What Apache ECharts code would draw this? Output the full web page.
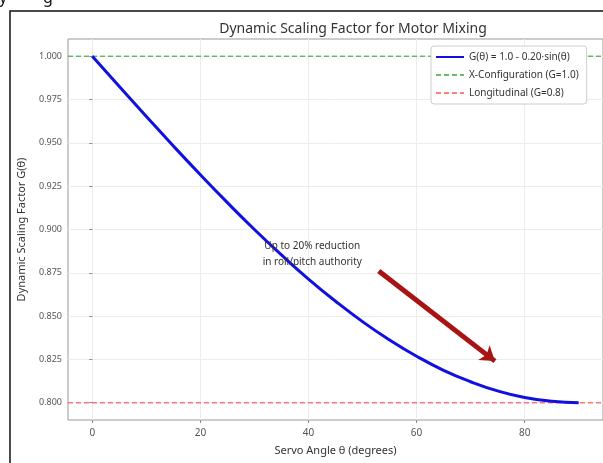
<!DOCTYPE html>
<html>
<head>
<meta charset="utf-8">
<script src="https://cdn.jsdelivr.net/npm/echarts@6/dist/echarts.min.js"></script>
<style>
html, body { margin: 0; padding: 0; background: #fff; }
#main { width: 603px; height: 463px; }
</style>
</head>
<body>
<div id="main"></div>
<script>
// servo angle (deg) and scaling factor
var angles = [0, 5, 10, 15, 20, 25, 30, 35, 40, 45, 50, 55, 60, 65, 70, 75, 80, 85, 90];
var gValues = [1.0000, 0.9826, 0.9653, 0.9482, 0.9316, 0.9155, 0.9000, 0.8853, 0.8714, 0.8586,
	0.8468, 0.8362, 0.8268, 0.8187, 0.8121, 0.8068, 0.8030, 0.8008, 0.8000];
var xConfigLevel = 1.0;
var longitudinalLevel = 0.8;
var xTicks = [0, 20, 40, 60, 80];
var yTicks = [0.800, 0.825, 0.850, 0.875, 0.900, 0.925, 0.950, 0.975, 1.000];
var xMin = -4.5, xMax = 94.5;
var yMin = 0.79, yMax = 1.01;
var noteText = "Up to 20% reduction\nin roll/pitch authority";
var notePos = [40.7, 0.886];
var arrowFrom = [53, 0.876];
var arrowTo = [74.5, 0.824];

var fontName = "Noto Sans";

function pairs(xs, ys) {
	var out = [];
	for (var i = 0; i < xs.length; i++) {
		out.push([xs[i], ys[i]]);
	}
	return out;
}

var myChart = echarts.init(document.getElementById("main"));
myChart.setOption({
	backgroundColor: "#fff",
	animation: false,
	textStyle: { fontFamily: fontName },
	title: {
		text: "Dynamic Scaling Factor for Motor Mixing",
		left: 348,
		top: 17,
		textAlign: "center",
		textStyle: { fontFamily: fontName, fontSize: 14, fontWeight: "normal", color: "#333" }
	},
	graphic: [
		{ type: "rect", shape: { x: 10, y: 11, width: 700, height: 600 },
			style: { fill: "none", stroke: "#111", lineWidth: 1.5 }, silent: true },
		{ type: "text", left: -1, top: -10, style: { text: "y", font: "16px Noto Sans", fill: "#111" } },
		{ type: "text", left: 43, top: -10, style: { text: "g", font: "16px Noto Sans", fill: "#111" } }
	],
	legend: {
		orient: "vertical",
		left: 431,
		top: 46,
		padding: [6, 8, 6, 4],
		itemGap: 8,
		itemWidth: 28,
		itemHeight: 12,
		itemStyle: { opacity: 0 },
		backgroundColor: "#fff",
		borderColor: "#ccc",
		borderWidth: 1,
		borderRadius: 3,
		textStyle: { fontFamily: fontName, fontSize: 10, color: "#333" },
		data: ["G(θ) = 1.0 - 0.20·sin(θ)", "X-Configuration (G=1.0)", "Longitudinal (G=0.8)"]
	},
	grid: {
		left: 68, right: 0, top: 39, bottom: 43,
		show: true, borderColor: "#999", borderWidth: 1, backgroundColor: "#fff"
	},
	xAxis: {
		type: "value",
		min: xMin, max: xMax,
		name: "Servo Angle θ (degrees)",
		nameLocation: "middle",
		nameGap: 25,
		nameTextStyle: { fontFamily: fontName, fontSize: 11, color: "#333" },
		axisLine: { show: false },
		axisTick: { show: true, length: 3, customValues: xTicks, lineStyle: { color: "#888" } },
		axisLabel: { customValues: xTicks, margin: 8, fontSize: 10, color: "#555", fontFamily: fontName },
		splitLine: { show: true, lineStyle: { color: "#ececec", width: 1 } }
	},
	yAxis: {
		type: "value",
		min: yMin, max: yMax,
		name: "Dynamic Scaling Factor G(θ)",
		nameLocation: "middle",
		nameGap: 41,
		nameTextStyle: { fontFamily: fontName, fontSize: 11, color: "#333" },
		axisLine: { show: false },
		axisTick: { show: true, length: 3, customValues: yTicks, lineStyle: { color: "#888" } },
		axisLabel: {
			customValues: yTicks, margin: 6, fontSize: 9, color: "#555", fontFamily: fontName,
			formatter: function (v) { return v.toFixed(3); }
		},
		splitLine: { show: true, lineStyle: { color: "#ececec", width: 1 } }
	},
	series: [
		{
			name: "X-Configuration (G=1.0)",
			type: "line",
			symbol: "none",
			data: [[xMin, xConfigLevel], [xMax, xConfigLevel]],
			lineStyle: { color: "#2ca02c", width: 1.5, type: [5, 3], opacity: 0.7 },
			itemStyle: { color: "#2ca02c" },
			z: 2
		},
		{
			name: "Longitudinal (G=0.8)",
			type: "line",
			symbol: "none",
			data: [[xMin, longitudinalLevel], [xMax, longitudinalLevel]],
			lineStyle: { color: "#ff0000", width: 1.5, type: [5, 3], opacity: 0.5 },
			itemStyle: { color: "#ff0000" },
			z: 2
		},
		{
			name: "G(θ) = 1.0 - 0.20·sin(θ)",
			type: "line",
			symbol: "none",
			smooth: 0.5,
			data: pairs(angles, gValues),
			lineStyle: { color: "#1010e0", width: 3 },
			itemStyle: { color: "#1010e0" },
			z: 3,
			markPoint: {
				symbol: "circle",
				symbolSize: 0,
				silent: true,
				label: {
					show: true, position: "inside", formatter: noteText,
					fontFamily: fontName, fontSize: 10, lineHeight: 16, color: "#333"
				},
				data: [{ coord: notePos }]
			},
			markLine: {
				silent: true,
				symbol: ["none", "arrow"],
				symbolSize: [14, 14],
				label: { show: false },
				lineStyle: { color: "#a81414", width: 5, type: "solid" },
				data: [[{ coord: arrowFrom }, { coord: arrowTo }]]
			}
		}
	]
});
</script>
</body>
</html>
